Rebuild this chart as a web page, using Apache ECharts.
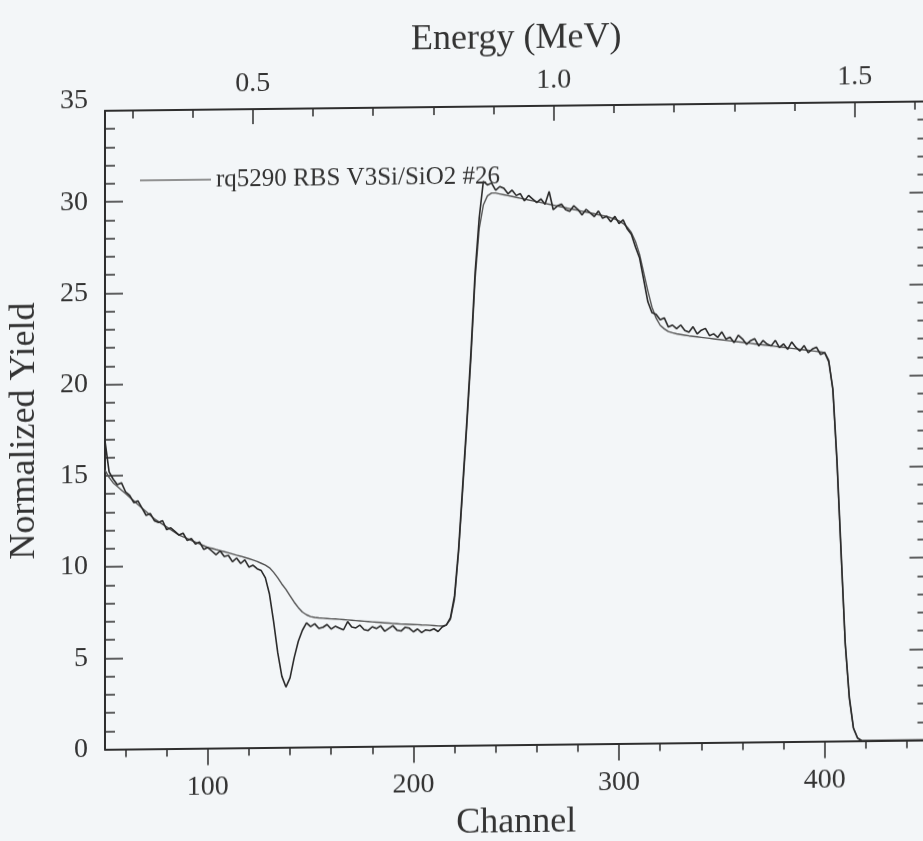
<!DOCTYPE html>
<html>
<head>
<meta charset="utf-8">
<script src="https://cdn.jsdelivr.net/npm/echarts@6/dist/echarts.min.js"></script>
<style>
  html, body { margin: 0; padding: 0; background: #f3f6f8; overflow: hidden; }
  #chart {
    position: absolute; left: 0; top: 0;
    width: 935px; height: 841px;
    transform: skewY(-0.65deg);
    transform-origin: 0 0;
  }
</style>
</head>
<body>
<div id="chart"></div>
<script>
// RBS spectrum: channels 50..450, every second channel
const channelStart = 50;
const channelStep = 2;

// Measured normalized yield (rows of 10 = 20 channels each)
const measuredYield = [
  16.9, 15.2, 14.8, 14.5, 14.6, 14.1, 13.9, 13.5, 13.6, 13.2,   // 50-68
  12.8, 12.9, 12.5, 12.4, 12.5, 12.0, 12.1, 11.9, 11.7, 11.8,   // 70-88
  11.4, 11.5, 11.2, 11.3, 10.9, 11.0, 10.8, 10.6, 10.8, 10.5,   // 90-108
  10.55, 10.2, 10.4, 10.1, 10.3, 9.9, 10.0, 9.8, 9.7, 9.3,      // 110-128
  8.4, 6.9, 5.2, 3.9, 3.3, 3.8, 4.9, 5.8, 6.4, 6.8,             // 130-148
  6.6, 6.75, 6.5, 6.55, 6.7, 6.45, 6.6, 6.5, 6.4, 6.85,         // 150-168
  6.55, 6.5, 6.65, 6.4, 6.35, 6.55, 6.45, 6.6, 6.3, 6.45,       // 170-188
  6.6, 6.35, 6.3, 6.5, 6.45, 6.25, 6.4, 6.2, 6.35, 6.3,         // 190-208
  6.4, 6.25, 6.5, 6.6, 7.0, 8.2, 10.8, 14.3, 17.8, 21.6,        // 210-228
  25.9, 28.9, 30.9, 30.7, 30.8, 30.4, 30.6, 30.5, 30.2, 30.4,   // 230-248
  30.1, 30.2, 29.8, 30.1, 29.9, 29.7, 29.9, 29.6, 30.3, 29.3,   // 250-268
  29.5, 29.6, 29.3, 29.2, 29.5, 29.3, 29.0, 29.3, 29.1, 28.9,   // 270-288
  29.2, 28.8, 28.9, 28.6, 28.9, 28.5, 28.7, 28.2, 27.9, 27.2,   // 290-308
  26.6, 25.4, 24.2, 23.6, 23.5, 23.2, 23.3, 22.8, 22.9, 22.7,   // 310-328
  22.9, 22.6, 22.5, 22.8, 22.4, 22.6, 22.7, 22.3, 22.4, 22.2,   // 330-348
  22.5, 22.1, 22.2, 21.9, 22.3, 22.1, 21.8, 22.0, 22.1, 21.7,   // 350-368
  22.0, 21.8, 21.7, 22.0, 21.6, 21.8, 21.5, 21.9, 21.6, 21.4,   // 370-388
  21.7, 21.3, 21.5, 21.6, 21.2, 21.3, 20.8, 19.3, 15.4, 10.4,   // 390-408
  5.4, 2.4, 0.7, 0.15, 0, 0, 0, 0, 0, 0,                        // 410-428
  0, 0, 0, 0, 0, 0, 0, 0, 0, 0,                                 // 430-448
  0                                                             // 450
];

// Simulated spectrum (smooth fit)
const simulatedYield = [
  15.3, 14.9, 14.6, 14.4, 14.2, 14.0, 13.8, 13.6, 13.4, 13.2,   // 50-68
  13.0, 12.8, 12.6, 12.45, 12.3, 12.15, 12.0, 11.85, 11.7, 11.6,// 70-88
  11.5, 11.4, 11.3, 11.2, 11.1, 11.0, 10.95, 10.88, 10.82, 10.76,// 90-108
  10.7, 10.63, 10.56, 10.5, 10.43, 10.36, 10.28, 10.2, 10.1, 10.0,// 110-128
  9.85, 9.6, 9.3, 8.95, 8.65, 8.3, 7.95, 7.65, 7.4, 7.25,       // 130-148
  7.15, 7.1, 7.07, 7.05, 7.03, 7.01, 7.0, 6.98, 6.96, 6.94,     // 150-168
  6.92, 6.9, 6.88, 6.86, 6.84, 6.82, 6.8, 6.78, 6.76, 6.74,     // 170-188
  6.72, 6.7, 6.68, 6.67, 6.66, 6.65, 6.64, 6.62, 6.61, 6.6,     // 190-208
  6.58, 6.56, 6.55, 6.6, 6.9, 8.0, 10.6, 14.0, 17.5, 21.2,      // 210-228
  25.5, 28.3, 29.6, 30.1, 30.25, 30.25, 30.2, 30.15, 30.1, 30.05,// 230-248
  30.0, 29.95, 29.9, 29.85, 29.8, 29.75, 29.7, 29.65, 29.6, 29.55,// 250-268
  29.5, 29.45, 29.4, 29.35, 29.3, 29.25, 29.2, 29.15, 29.1, 29.05,// 270-288
  29.0, 28.95, 28.9, 28.82, 28.75, 28.65, 28.5, 28.3, 28.0, 27.5,// 290-308
  26.8, 25.8, 24.8, 23.9, 23.3, 22.9, 22.7, 22.55, 22.48, 22.42,// 310-328
  22.38, 22.34, 22.3, 22.27, 22.24, 22.21, 22.18, 22.15, 22.12, 22.09,// 330-348
  22.06, 22.03, 22.0, 21.97, 21.94, 21.91, 21.88, 21.85, 21.82, 21.79,// 350-368
  21.76, 21.73, 21.7, 21.67, 21.64, 21.61, 21.58, 21.55, 21.52, 21.49,// 370-388
  21.46, 21.43, 21.4, 21.37, 21.34, 21.3, 20.9, 19.2, 15.2, 10.2,// 390-408
  5.3, 2.3, 0.7, 0.15, 0, 0, 0, 0, 0, 0,                        // 410-428
  0, 0, 0, 0, 0, 0, 0, 0, 0, 0,                                 // 430-448
  0                                                             // 450
];

// Axis ticks
const channelTicks = [100, 200, 300, 400];
const channelMinorTicks = [60, 80, 120, 140, 160, 180, 220, 240, 260, 280,
                           320, 340, 360, 380, 420, 440];
const energyTicks = [0.5, 1.0, 1.5];
const energyMinorTicks = [0.3, 0.4, 0.6, 0.7, 0.8, 0.9, 1.1, 1.2, 1.3, 1.4, 1.6];

// Energy calibration: E (MeV) = offset + gain * channel
const energyOffset = 0.0836;
const energyGain = 0.003416;

const channelMin = 50, channelMax = 450;
const energyMin = energyOffset + energyGain * channelMin;
const energyMax = energyOffset + energyGain * channelMax;

const seriesName = 'rq5290 RBS V3Si/SiO2 #26';

const toPairs = arr => arr.map((v, i) => [channelStart + i * channelStep, v]);

const FONT = '"Liberation Serif", "DejaVu Serif", serif';
const INK = '#333';
const lineStyle = { color: '#2e2e2e', width: 2 };
const tickStyle = { color: '#2e2e2e', width: 1.5 };

const chart = echarts.init(document.getElementById('chart'), null, { renderer: 'canvas' });

chart.setOption({
  animation: false,
  backgroundColor: 'transparent',
  grid: {
    left: 105, top: 112, width: 822.5, height: 638.5,
    containLabel: false, outerBoundsMode: 'none'
  },
  legend: {
    data: [seriesName],
    left: 135, top: 164,
    itemWidth: 71, itemHeight: 1.4, itemGap: 6,
    icon: 'rect',
    itemStyle: { color: '#707070' },
    textStyle: { fontFamily: FONT, fontSize: 25, color: INK, lineHeight: 26 }
  },
  xAxis: [
    { // channel, major ticks + labels
      type: 'value', position: 'bottom', min: channelMin, max: channelMax,
      axisLine: { show: true, lineStyle },
      axisTick: { show: true, inside: false, length: 17, customValues: channelTicks, lineStyle: tickStyle },
      axisLabel: { show: true, customValues: channelTicks, margin: 25,
                   fontFamily: FONT, fontSize: 28, color: INK },
      splitLine: { show: false },
      name: 'Channel', nameLocation: 'middle', nameGap: 60,
      nameTextStyle: { fontFamily: FONT, fontSize: 36, color: INK }
    },
    { // channel, minor ticks
      type: 'value', position: 'bottom', min: channelMin, max: channelMax,
      axisLine: { show: false },
      axisTick: { show: true, inside: false, length: 8, customValues: channelMinorTicks, lineStyle: tickStyle },
      axisLabel: { show: false },
      splitLine: { show: false }
    },
    { // energy, major ticks + labels
      type: 'value', position: 'top', min: energyMin, max: energyMax,
      axisLine: { show: true, lineStyle },
      axisTick: { show: true, inside: true, length: 15, customValues: energyTicks, lineStyle: tickStyle },
      axisLabel: { show: true, customValues: energyTicks, margin: 11,
                   formatter: v => v.toFixed(1),
                   fontFamily: FONT, fontSize: 28, color: INK },
      splitLine: { show: false },
      name: 'Energy (MeV)', nameLocation: 'middle', nameGap: 49,
      nameTextStyle: { fontFamily: FONT, fontSize: 36, color: INK }
    },
    { // energy, minor ticks
      type: 'value', position: 'top', min: energyMin, max: energyMax,
      axisLine: { show: false },
      axisTick: { show: true, inside: true, length: 8, customValues: energyMinorTicks, lineStyle: tickStyle },
      axisLabel: { show: false },
      splitLine: { show: false }
    }
  ],
  yAxis: [
    {
      type: 'value', position: 'left', min: 0, max: 35, interval: 5,
      axisLine: { show: true, lineStyle },
      axisTick: { show: true, inside: true, length: 18, lineStyle: tickStyle },
      minorTick: { show: true, splitNumber: 5, length: 10, lineStyle: tickStyle },
      axisLabel: { show: true, margin: 17, fontFamily: FONT, fontSize: 28, color: INK,
                   lineHeight: 20, verticalAlignMaxLabel: 'bottom' },
      splitLine: { show: false },
      name: 'Normalized Yield', nameLocation: 'middle', nameGap: 62,
      nameTextStyle: { fontFamily: FONT, fontSize: 36, color: INK }
    },
    {
      type: 'value', position: 'right', min: 0, max: 35, interval: 5,
      axisLine: { show: true, lineStyle },
      axisTick: { show: true, inside: true, length: 18, lineStyle: tickStyle },
      minorTick: { show: true, splitNumber: 5, length: 10, lineStyle: tickStyle },
      axisLabel: { show: false },
      splitLine: { show: false }
    }
  ],
  series: [
    {
      name: 'RUMP simulation', type: 'line', xAxisIndex: 0, yAxisIndex: 0,
      data: toPairs(simulatedYield),
      showSymbol: false, symbol: 'none',
      lineStyle: { color: '#555', width: 1.4 },
      itemStyle: { color: '#555' },
      z: 2
    },
    {
      name: seriesName, type: 'line', xAxisIndex: 0, yAxisIndex: 0,
      data: toPairs(measuredYield),
      showSymbol: false, symbol: 'none',
      lineStyle: { color: '#2a2a2a', width: 1.6 },
      itemStyle: { color: '#707070' },
      z: 3
    }
  ]
});
</script>
</body>
</html>
